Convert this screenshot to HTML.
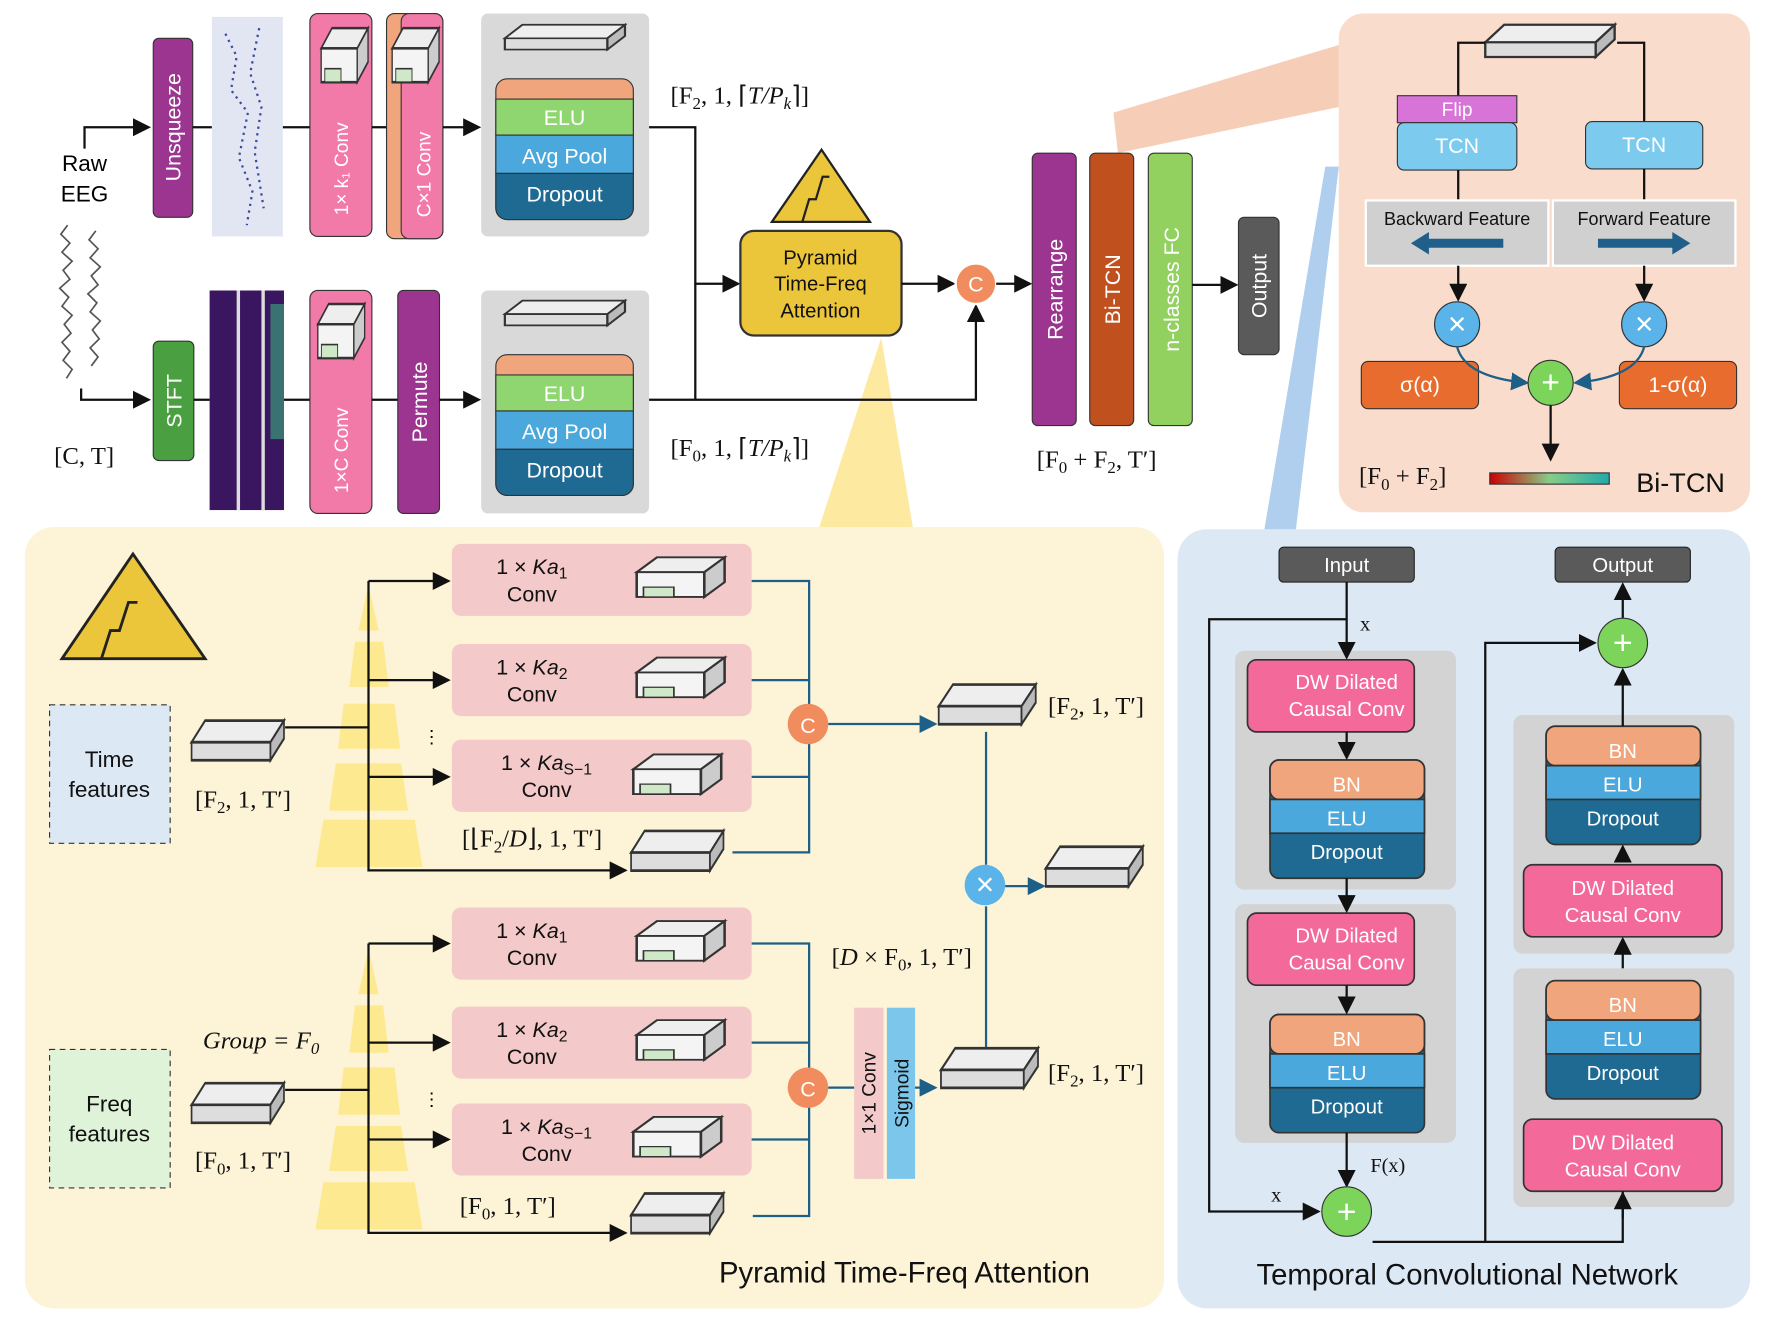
<!DOCTYPE html>
<html><head><meta charset="utf-8"><style>
html,body{margin:0;padding:0;background:#fff}
svg{display:block}
text{font-family:"Liberation Sans",sans-serif}
.m{font-family:"Liberation Serif",serif;font-size:22px;fill:#111}
.w{fill:#fff;font-size:19px;text-anchor:middle}
.k{fill:#111;font-size:18px;text-anchor:middle}
.ln{stroke:#111;stroke-width:2;fill:none}
.bl{stroke:#1d5f86;stroke-width:2;fill:none}
</style></head><body>
<svg width="1767" height="1323" viewBox="0 0 1568 1175" preserveAspectRatio="none" xmlns="http://www.w3.org/2000/svg">
<defs>
<marker id="a" markerWidth="8" markerHeight="8" refX="7" refY="4" orient="auto"><path d="M0,0 L8,4 L0,8z" fill="#111"/></marker>
<marker id="ab" markerWidth="8" markerHeight="8" refX="7" refY="4" orient="auto"><path d="M0,0 L8,4 L0,8z" fill="#1d5f86"/></marker>
<linearGradient id="rb" x1="0" x2="1"><stop offset="0" stop-color="#c00"/><stop offset=".5" stop-color="#8c8"/><stop offset="1" stop-color="#2aa"/></linearGradient>
<g id="slab"><polygon points="0,12 12,0 82,0 70,12" fill="#eee" stroke="#333" stroke-width="1.5"/><polygon points="0,12 70,12 70,22 0,22" fill="#ddd" stroke="#333" stroke-width="1.5"/><polygon points="70,12 82,0 82,10 70,22" fill="#bbb" stroke="#333" stroke-width="1.5"/></g>
<g id="cube"><polygon points="0,12 40,12 52,0 12,0" fill="#eee" stroke="#333" stroke-width="1.5"/><polygon points="0,12 40,12 40,32 0,32" fill="#f4f4f4" stroke="#333" stroke-width="1.5"/><polygon points="40,12 52,0 52,20 40,32" fill="#ccc" stroke="#333" stroke-width="1.5"/><polygon points="4,24 22,24 22,32 4,32" fill="#cfe8c8" stroke="#333"/></g>
</defs>
<rect width="1568" height="1175" fill="#fff"/>
<!-- panels -->
<rect x="1188" y="12" width="365" height="443" rx="22" fill="#f9dccb"/>
<rect x="22" y="468" width="1011" height="694" rx="26" fill="#fdf3d6"/>
<rect x="1045" y="470" width="508" height="692" rx="26" fill="#dde8f5"/>
<polygon points="988,100 1188,40 1188,95 992,136" fill="#f4c2a6" opacity=".8"/>
<polygon points="1122,470 1176,148 1188,148 1150,470" fill="#9cc3ea" opacity=".8"/>
<polygon points="727,468 782,300 810,468" fill="#fde9a0"/>

<!-- top row -->
<text x="75" y="152" font-size="20" text-anchor="middle">Raw</text>
<text x="75" y="179" font-size="20" text-anchor="middle">EEG</text>
<path d="M60,200 l-6,8 l8,8 l-7,8 l9,8 l-8,8 l6,8 l-9,8 l8,8 l-6,8 l9,8 l-7,8 l6,8 l-8,8 l7,8 l-6,8 l8,8 l-5,8 M85,205 l-6,8 l8,8 l-7,8 l9,8 l-8,8 l6,8 l-9,8 l8,8 l-6,8 l9,8 l-7,8 l6,8 l-8,8 l7,8 l-6,8" stroke="#555" stroke-width="1.5" fill="none"/>
<path d="M75,132 V113 H132" class="ln" marker-end="url(#a)"/>
<path d="M72,345 V355 H132" class="ln" marker-end="url(#a)"/>
<text x="48" y="412" class="m">[C, T]</text>
<rect x="136" y="34" width="35" height="159" rx="5" fill="#9b3590" stroke="#333"/>
<text transform="translate(160,113) rotate(-90)" class="w">Unsqueeze</text>
<rect x="188" y="15" width="63" height="195" fill="#e2e6f2"/>
<path d="M200,30 l10,20 l-5,30 l15,20 l-8,40 l12,30 l-5,30 M230,25 l-8,40 l10,30 l-6,40 l8,50" stroke="#3a4aa0" stroke-width="2" stroke-dasharray="2 4" fill="none"/>
<line x1="171" y1="113" x2="188" y2="113" class="ln"/>
<line x1="251" y1="113" x2="275" y2="113" class="ln"/>
<rect x="275" y="12" width="55" height="198" rx="7" fill="#f27aa8" stroke="#333"/>
<use href="#cube" transform="translate(285,25) scale(0.8,1.5)"/>
<text transform="translate(309,150) rotate(-90)" class="w" style="font-size:17px">1× k₁ Conv</text>
<line x1="330" y1="113" x2="343" y2="113" class="ln"/>
<rect x="343" y="12" width="50" height="200" rx="7" fill="#f0a57c" stroke="#333"/>
<rect x="356" y="12" width="37" height="200" rx="7" fill="#f27aa8" stroke="#333"/>
<use href="#cube" transform="translate(348,25) scale(0.8,1.5)"/>
<text transform="translate(382,155) rotate(-90)" class="w" style="font-size:17px">C×1 Conv</text>
<line x1="393" y1="113" x2="425" y2="113" class="ln" marker-end="url(#a)"/>
<rect x="427" y="12" width="149" height="198" rx="6" fill="#d9d9d9"/>
<use href="#slab" transform="translate(448,22) scale(1.3,1)"/>
<rect x="440" y="70" width="122" height="125" rx="10" fill="#f0a57c" stroke="#333"/>
<rect x="440" y="88" width="122" height="32" fill="#90d670" stroke="#333"/>
<rect x="440" y="120" width="122" height="34" fill="#4aa8dc" stroke="#333"/>
<path d="M440,154 H562 V185 a10,10 0 0 1 -10,10 H450 a10,10 0 0 1 -10,-10z" fill="#1f6a93" stroke="#333"/>
<text x="501" y="111" class="w">ELU</text><text x="501" y="145" class="w">Avg Pool</text><text x="501" y="179" class="w">Dropout</text>
<text x="595" y="92" class="m">[F<tspan dy="5" style="font-size:15px">2</tspan><tspan dy="-5">, 1, ⌈</tspan><tspan font-style="italic">T/P</tspan><tspan dy="5" style="font-size:15px" font-style="italic">k</tspan><tspan dy="-5">⌉]</tspan></text>
<path d="M576,113 H617 V252 H655" class="ln" marker-end="url(#a)"/>

<!-- second row -->
<rect x="136" y="303" width="36" height="106" rx="5" fill="#4aa040" stroke="#333"/>
<text transform="translate(161,356) rotate(-90)" class="w">STFT</text>
<line x1="172" y1="355" x2="186" y2="355" class="ln"/>
<rect x="186" y="258" width="66" height="195" fill="#3a1660"/>
<rect x="210" y="258" width="3" height="195" fill="#ddd"/><rect x="232" y="258" width="3" height="195" fill="#ddd"/>
<rect x="240" y="270" width="12" height="120" fill="#3a9a7a" opacity=".7"/>
<line x1="252" y1="355" x2="275" y2="355" class="ln"/>
<rect x="275" y="258" width="55" height="198" rx="7" fill="#f27aa8" stroke="#333"/>
<use href="#cube" transform="translate(282,270) scale(0.8,1.5)"/>
<text transform="translate(309,400) rotate(-90)" class="w" style="font-size:17px">1×C Conv</text>
<line x1="330" y1="355" x2="353" y2="355" class="ln"/>
<rect x="353" y="258" width="37" height="198" rx="5" fill="#9b3590" stroke="#333"/>
<text transform="translate(379,357) rotate(-90)" class="w">Permute</text>
<line x1="390" y1="355" x2="425" y2="355" class="ln" marker-end="url(#a)"/>
<rect x="427" y="258" width="149" height="198" rx="6" fill="#d9d9d9"/>
<use href="#slab" transform="translate(448,267) scale(1.3,1)"/>
<rect x="440" y="315" width="122" height="125" rx="10" fill="#f0a57c" stroke="#333"/>
<rect x="440" y="333" width="122" height="32" fill="#90d670" stroke="#333"/>
<rect x="440" y="365" width="122" height="34" fill="#4aa8dc" stroke="#333"/>
<path d="M440,399 H562 V430 a10,10 0 0 1 -10,10 H450 a10,10 0 0 1 -10,-10z" fill="#1f6a93" stroke="#333"/>
<text x="501" y="356" class="w">ELU</text><text x="501" y="390" class="w">Avg Pool</text><text x="501" y="424" class="w">Dropout</text>
<text x="595" y="405" class="m">[F<tspan dy="5" style="font-size:15px">0</tspan><tspan dy="-5">, 1, ⌈</tspan><tspan font-style="italic">T/P</tspan><tspan dy="5" style="font-size:15px" font-style="italic">k</tspan><tspan dy="-5">⌉]</tspan></text>
<path d="M576,355 H866 V272" class="ln" marker-end="url(#a)"/>
<line x1="617" y1="252" x2="617" y2="355" class="ln"/>

<!-- PTFA block -->
<polygon points="685,197 729,133 772,197" fill="#ecc63a" stroke="#222" stroke-width="2"/>
<path d="M712,197 l6,-20 h6 l6,-20 h6" stroke="#222" stroke-width="2" fill="none"/>
<rect x="657" y="205" width="143" height="93" rx="12" fill="#ecc63a" stroke="#333" stroke-width="2"/>
<text x="728" y="235" class="k">Pyramid</text><text x="728" y="258" class="k">Time-Freq</text><text x="728" y="282" class="k">Attention</text>
<line x1="800" y1="252" x2="846" y2="252" class="ln" marker-end="url(#a)"/>
<circle cx="866" cy="252" r="18" fill="#f08c5e" stroke="#fff" stroke-width="2"/>
<text x="866" y="259" class="w">C</text>
<line x1="884" y1="252" x2="914" y2="252" class="ln" marker-end="url(#a)"/>
<rect x="916" y="136" width="39" height="242" rx="5" fill="#9b3590" stroke="#333"/>
<text transform="translate(943,257) rotate(-90)" class="w">Rearrange</text>
<rect x="967" y="136" width="39" height="242" rx="5" fill="#c0501e" stroke="#333"/>
<text transform="translate(994,257) rotate(-90)" class="w">Bi-TCN</text>
<rect x="1019" y="136" width="39" height="242" rx="5" fill="#92d060" stroke="#333"/>
<text transform="translate(1046,257) rotate(-90)" class="w">n-classes FC</text>
<line x1="1058" y1="253" x2="1097" y2="253" class="ln" marker-end="url(#a)"/>
<rect x="1099" y="193" width="36" height="122" rx="5" fill="#5a5a5a" stroke="#333"/>
<text transform="translate(1124,254) rotate(-90)" class="w">Output</text>
<text x="920" y="415" class="m">[F<tspan dy="5" style="font-size:15px">0</tspan><tspan dy="-5"> + F</tspan><tspan dy="5" style="font-size:15px">2</tspan><tspan dy="-5">, T′]</tspan></text>

<!-- Bi-TCN panel -->
<use href="#slab" transform="translate(1318,22) scale(1.4,1.3)"/>
<path d="M1318,38 H1294 V85 M1435,38 H1459 V108" class="ln"/>
<rect x="1240" y="85" width="106" height="24" fill="#d874d8" stroke="#333"/>
<text x="1293" y="103" class="w" style="font-size:17px">Flip</text>
<rect x="1240" y="109" width="106" height="42" rx="6" fill="#7ccbee" stroke="#333"/>
<text x="1293" y="136" class="w">TCN</text>
<rect x="1407" y="108" width="104" height="42" rx="6" fill="#7ccbee" stroke="#333"/>
<text x="1459" y="135" class="w">TCN</text>
<path d="M1294,151 V178 M1459,150 V178" class="ln"/>
<rect x="1212" y="178" width="162" height="58" fill="#d0d0d0" stroke="#fff" stroke-width="2"/>
<rect x="1378" y="178" width="162" height="58" fill="#d0d0d0" stroke="#fff" stroke-width="2"/>
<text x="1293" y="200" class="k" style="font-size:16px">Backward Feature</text>
<text x="1459" y="200" class="k" style="font-size:16px">Forward Feature</text>
<polygon points="1252,216 1268,206 1268,212 1334,212 1334,220 1268,220 1268,226" fill="#1f5f8a"/>
<polygon points="1500,216 1484,206 1484,212 1418,212 1418,220 1484,220 1484,226" fill="#1f5f8a"/>
<line x1="1294" y1="236" x2="1294" y2="266" class="ln" marker-end="url(#a)"/>
<line x1="1459" y1="236" x2="1459" y2="266" class="ln" marker-end="url(#a)"/>
<circle cx="1293" cy="288" r="20" fill="#5ab4ea" stroke="#333"/><text x="1293" y="297" class="w" style="font-size:28px">×</text>
<circle cx="1459" cy="288" r="20" fill="#5ab4ea" stroke="#333"/><text x="1459" y="297" class="w" style="font-size:28px">×</text>
<rect x="1208" y="321" width="104" height="42" rx="6" fill="#e86c2e" stroke="#333"/>
<text x="1260" y="348" class="w">σ(α)</text>
<rect x="1437" y="321" width="104" height="42" rx="6" fill="#e86c2e" stroke="#333"/>
<text x="1489" y="348" class="w">1-σ(α)</text>
<path d="M1293,308 Q1300,335 1355,340" class="bl" marker-end="url(#ab)"/>
<path d="M1459,308 Q1452,335 1398,340" class="bl" marker-end="url(#ab)"/>
<circle cx="1376" cy="340" r="20" fill="#7cd45a" stroke="#333"/><text x="1376" y="349" class="w" style="font-size:28px">+</text>
<line x1="1376" y1="360" x2="1376" y2="408" class="ln" marker-end="url(#a)"/>
<text x="1206" y="430" class="m">[F<tspan dy="5" style="font-size:15px">0</tspan><tspan dy="-5"> + F</tspan><tspan dy="5" style="font-size:15px">2</tspan><tspan dy="-5">]</tspan></text>
<rect x="1322" y="420" width="106" height="10" fill="url(#rb)" stroke="#333"/>
<text x="1452" y="437" font-size="24" fill="#111">Bi-TCN</text>

<!-- PTFA detail -->
<polygon points="55,585 118,492 182,585" fill="#ecc63a" stroke="#222" stroke-width="2.5"/>
<path d="M90,585 l8,-25 h8 l8,-25 h8" stroke="#222" stroke-width="2.5" fill="none"/>
<rect x="44" y="626" width="107" height="123" fill="#dde8f5" stroke="#333" stroke-dasharray="5 4"/>
<text x="97" y="681" class="k" style="font-size:20px">Time</text><text x="97" y="708" class="k" style="font-size:20px">features</text>
<rect x="44" y="932" width="107" height="123" fill="#dff3d8" stroke="#333" stroke-dasharray="5 4"/>
<text x="97" y="987" class="k" style="font-size:20px">Freq</text><text x="97" y="1014" class="k" style="font-size:20px">features</text>
<g fill="#fde98f">
<polygon points="318,560 336,560 327,520"/><polygon points="310,610 345,610 340,570 315,570"/><polygon points="300,665 355,665 350,625 305,625"/><polygon points="292,720 362,720 356,678 298,678"/><polygon points="280,770 375,770 368,728 287,728"/>
<polygon points="318,883 336,883 327,843"/><polygon points="310,935 345,935 340,893 315,893"/><polygon points="300,990 355,990 350,948 305,948"/><polygon points="292,1040 362,1040 356,1000 298,1000"/><polygon points="280,1092 375,1092 368,1050 287,1050"/>
</g>
<use href="#slab" transform="translate(170,640) scale(1,1.6)"/>
<use href="#slab" transform="translate(170,962) scale(1,1.6)"/>
<text x="173" y="717" class="m">[F<tspan dy="5" style="font-size:15px">2</tspan><tspan dy="-5">, 1, T′]</tspan></text>
<text x="173" y="1038" class="m">[F<tspan dy="5" style="font-size:15px">0</tspan><tspan dy="-5">, 1, T′]</tspan></text>
<text x="180" y="931" class="m" font-style="italic">Group = F<tspan dy="5" style="font-size:15px">0</tspan></text>
<path d="M253,646 H327 V516" class="ln"/>
<path d="M253,968 H327 V838" class="ln"/>
<g class="ln">
<line x1="327" y1="516" x2="398" y2="516" marker-end="url(#a)"/>
<line x1="327" y1="604" x2="398" y2="604" marker-end="url(#a)"/>
<line x1="327" y1="690" x2="398" y2="690" marker-end="url(#a)"/>
<path d="M327,646 V773 H555" marker-end="url(#a)"/>
<line x1="327" y1="838" x2="398" y2="838" marker-end="url(#a)"/>
<line x1="327" y1="926" x2="398" y2="926" marker-end="url(#a)"/>
<line x1="327" y1="1012" x2="398" y2="1012" marker-end="url(#a)"/>
<path d="M327,968 V1095 H555" marker-end="url(#a)"/>
</g>
<text x="375" y="660" style="font-size:16px">⋮</text><text x="375" y="982" style="font-size:16px">⋮</text>
<g fill="#f3c9c9">
<rect x="401" y="483" width="266" height="64" rx="8"/>
<rect x="401" y="572" width="266" height="64" rx="8"/>
<rect x="401" y="657" width="266" height="64" rx="8"/>
<rect x="401" y="806" width="266" height="64" rx="8"/>
<rect x="401" y="894" width="266" height="64" rx="8"/>
<rect x="401" y="980" width="266" height="64" rx="8"/>
</g>
<g class="m" style="font-size:19px" text-anchor="middle">
<text x="472" y="510">1 × <tspan font-style="italic">Ka</tspan><tspan dy="4" style="font-size:14px">1</tspan></text><text x="472" y="534">Conv</text>
<text x="472" y="599">1 × <tspan font-style="italic">Ka</tspan><tspan dy="4" style="font-size:14px">2</tspan></text><text x="472" y="623">Conv</text>
<text x="485" y="684">1 × <tspan font-style="italic">Ka</tspan><tspan dy="4" style="font-size:14px">S−1</tspan></text><text x="485" y="708">Conv</text>
<text x="472" y="833">1 × <tspan font-style="italic">Ka</tspan><tspan dy="4" style="font-size:14px">1</tspan></text><text x="472" y="857">Conv</text>
<text x="472" y="921">1 × <tspan font-style="italic">Ka</tspan><tspan dy="4" style="font-size:14px">2</tspan></text><text x="472" y="945">Conv</text>
<text x="485" y="1007">1 × <tspan font-style="italic">Ka</tspan><tspan dy="4" style="font-size:14px">S−1</tspan></text><text x="485" y="1031">Conv</text>
</g>
<use href="#cube" transform="translate(565,495) scale(1.5,1.1)"/>
<use href="#cube" transform="translate(565,584) scale(1.5,1.1)"/>
<use href="#cube" transform="translate(562,670) scale(1.5,1.1)"/>
<use href="#cube" transform="translate(565,818) scale(1.5,1.1)"/>
<use href="#cube" transform="translate(565,906) scale(1.5,1.1)"/>
<use href="#cube" transform="translate(562,992) scale(1.5,1.1)"/>
<use href="#slab" transform="translate(560,738) scale(1,1.6)"/>
<use href="#slab" transform="translate(560,1060) scale(1,1.6)"/>
<text x="410" y="752" class="m">[⌊F<tspan dy="5" style="font-size:15px">2</tspan><tspan dy="-5">/</tspan><tspan font-style="italic">D</tspan>⌋, 1, T′]</text>
<text x="408" y="1078" class="m">[F<tspan dy="5" style="font-size:15px">0</tspan><tspan dy="-5">, 1, T′]</tspan></text>
<path d="M667,516 H718 V757 H650 M667,604 H718 M667,690 H718" class="bl"/>
<path d="M667,838 H718 V1080 H668 M667,926 H718 M667,1012 H718" class="bl"/>
<circle cx="717" cy="643" r="18" fill="#f08c5e"/><text x="717" y="651" class="w">C</text>
<circle cx="717" cy="966" r="18" fill="#f08c5e"/><text x="717" y="974" class="w">C</text>
<line x1="735" y1="643" x2="830" y2="643" class="bl" marker-end="url(#ab)"/>
<use href="#slab" transform="translate(833,608) scale(1.05,1.6)"/>
<text x="930" y="634" class="m">[F<tspan dy="5" style="font-size:15px">2</tspan><tspan dy="-5">, 1, T′]</tspan></text>
<line x1="735" y1="966" x2="758" y2="966" class="bl"/>
<rect x="758" y="895" width="26" height="152" fill="#f3c9c9"/>
<rect x="787" y="895" width="25" height="152" fill="#7cc6ec"/>
<text transform="translate(777,971) rotate(-90)" class="k" style="font-size:17px">1×1 Conv</text>
<text transform="translate(806,971) rotate(-90)" class="k" style="font-size:17px">Sigmoid</text>
<line x1="812" y1="966" x2="830" y2="966" class="bl" marker-end="url(#ab)"/>
<use href="#slab" transform="translate(835,931) scale(1.05,1.6)"/>
<text x="930" y="960" class="m">[F<tspan dy="5" style="font-size:15px">2</tspan><tspan dy="-5">, 1, T′]</tspan></text>
<text x="738" y="857" class="m">[<tspan font-style="italic">D</tspan> × F<tspan dy="5" style="font-size:15px">0</tspan><tspan dy="-5">, 1, T′]</tspan></text>
<path d="M875,650 V768 M875,930 V805" class="bl"/>
<circle cx="874" cy="786" r="18" fill="#5ab4ea"/><text x="874" y="795" class="w" style="font-size:28px">×</text>
<line x1="892" y1="787" x2="926" y2="787" class="bl" marker-end="url(#ab)"/>
<use href="#slab" transform="translate(928,752) scale(1.05,1.6)"/>
<text x="638" y="1139" font-size="26" fill="#111">Pyramid Time-Freq Attention</text>

<!-- TCN -->
<rect x="1135" y="486" width="120" height="31" rx="4" fill="#5a5a5a" stroke="#222"/>
<text x="1195" y="508" class="w" style="font-size:18px">Input</text>
<rect x="1380" y="486" width="120" height="31" rx="4" fill="#5a5a5a" stroke="#222"/>
<text x="1440" y="508" class="w" style="font-size:18px">Output</text>
<rect x="1096" y="578" width="196" height="212" rx="8" fill="#d3d3d3"/>
<rect x="1096" y="803" width="196" height="212" rx="8" fill="#d3d3d3"/>
<rect x="1343" y="635" width="196" height="212" rx="8" fill="#d3d3d3"/>
<rect x="1343" y="860" width="196" height="212" rx="8" fill="#d3d3d3"/>
<g>
<rect x="1107" y="586" width="148" height="64" rx="8" fill="#f36a9a" stroke="#333" stroke-width="1.5"/>
<text x="1195" y="612" class="w" style="font-size:18px">DW Dilated</text><text x="1195" y="636" class="w" style="font-size:18px">Causal Conv</text>
<rect x="1107" y="811" width="148" height="64" rx="8" fill="#f36a9a" stroke="#333" stroke-width="1.5"/>
<text x="1195" y="837" class="w" style="font-size:18px">DW Dilated</text><text x="1195" y="861" class="w" style="font-size:18px">Causal Conv</text>
<rect x="1352" y="768" width="176" height="64" rx="8" fill="#f36a9a" stroke="#333" stroke-width="1.5"/>
<text x="1440" y="795" class="w" style="font-size:18px">DW Dilated</text><text x="1440" y="819" class="w" style="font-size:18px">Causal Conv</text>
<rect x="1352" y="994" width="176" height="64" rx="8" fill="#f36a9a" stroke="#333" stroke-width="1.5"/>
<text x="1440" y="1021" class="w" style="font-size:18px">DW Dilated</text><text x="1440" y="1045" class="w" style="font-size:18px">Causal Conv</text>
</g>
<g stroke="#333" stroke-width="1.5">
<rect x="1127" y="675" width="137" height="105" rx="8" fill="#1f6a93"/><rect x="1127" y="675" width="137" height="35" rx="8" fill="#f0a57c"/><rect x="1127" y="710" width="137" height="30" fill="#4aa8dc"/>
<rect x="1127" y="901" width="137" height="105" rx="8" fill="#1f6a93"/><rect x="1127" y="901" width="137" height="35" rx="8" fill="#f0a57c"/><rect x="1127" y="936" width="137" height="30" fill="#4aa8dc"/>
<rect x="1372" y="645" width="137" height="105" rx="8" fill="#1f6a93"/><rect x="1372" y="645" width="137" height="35" rx="8" fill="#f0a57c"/><rect x="1372" y="680" width="137" height="30" fill="#4aa8dc"/>
<rect x="1372" y="871" width="137" height="105" rx="8" fill="#1f6a93"/><rect x="1372" y="871" width="137" height="35" rx="8" fill="#f0a57c"/><rect x="1372" y="906" width="137" height="30" fill="#4aa8dc"/>
</g>
<g class="w" style="font-size:18px">
<text x="1195" y="703">BN</text><text x="1195" y="733">ELU</text><text x="1195" y="763">Dropout</text>
<text x="1195" y="929">BN</text><text x="1195" y="959">ELU</text><text x="1195" y="989">Dropout</text>
<text x="1440" y="673">BN</text><text x="1440" y="703">ELU</text><text x="1440" y="733">Dropout</text>
<text x="1440" y="899">BN</text><text x="1440" y="929">ELU</text><text x="1440" y="959">Dropout</text>
</g>
<g class="ln">
<line x1="1195" y1="517" x2="1195" y2="584" marker-end="url(#a)"/>
<line x1="1195" y1="650" x2="1195" y2="673" marker-end="url(#a)"/>
<line x1="1195" y1="780" x2="1195" y2="809" marker-end="url(#a)"/>
<line x1="1195" y1="875" x2="1195" y2="899" marker-end="url(#a)"/>
<line x1="1195" y1="1006" x2="1195" y2="1053" marker-end="url(#a)"/>
<path d="M1195,550 H1073 V1076 H1170" marker-end="url(#a)"/>
<line x1="1440" y1="1058" x2="1440" y2="1082"/>
<line x1="1440" y1="860" x2="1440" y2="834" marker-end="url(#a)"/>
<line x1="1440" y1="766" x2="1440" y2="752" marker-end="url(#a)"/>
<line x1="1440" y1="645" x2="1440" y2="595" marker-end="url(#a)"/>
<line x1="1440" y1="549" x2="1440" y2="519" marker-end="url(#a)"/>
<path d="M1318,1103 V571 H1415" marker-end="url(#a)"/>
<path d="M1218,1103 H1440 V1060" marker-end="url(#a)"/>
</g>
<circle cx="1195" cy="1076" r="22" fill="#7cd45a" stroke="#333"/><text x="1195" y="1086" class="w" style="font-size:30px">+</text>
<circle cx="1440" cy="571" r="22" fill="#7cd45a" stroke="#333"/><text x="1440" y="581" class="w" style="font-size:30px">+</text>
<text x="1207" y="560" class="m" style="font-size:18px">x</text>
<text x="1128" y="1067" class="m" style="font-size:18px">x</text>
<text x="1216" y="1041" class="m" style="font-size:18px">F(x)</text>
<text x="1115" y="1141" font-size="26" fill="#111">Temporal Convolutional Network</text>
</svg>
</body></html>
